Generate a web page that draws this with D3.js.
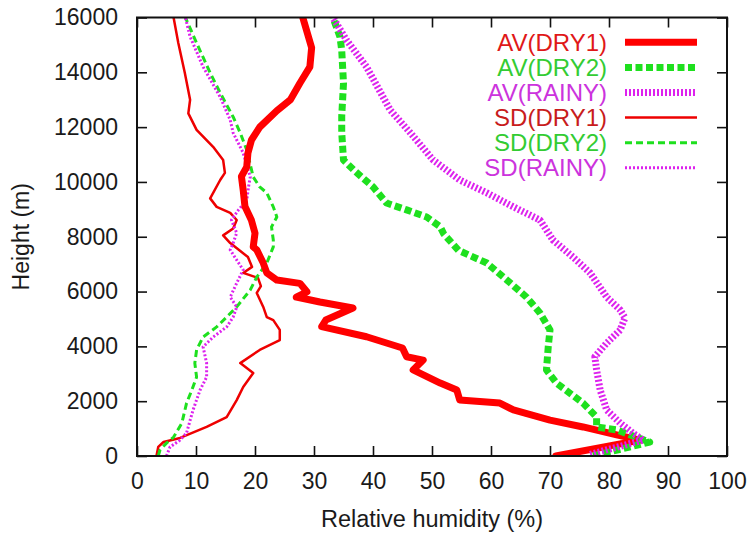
<!DOCTYPE html>
<html>
<head>
<meta charset="utf-8">
<script src="https://cdn.jsdelivr.net/npm/d3@7"></script>
<style>
  html, body { margin: 0; padding: 0; background: #fff; }
  svg { display: block; }
  text { font-family: "Liberation Sans", Arial, Helvetica, sans-serif; }
</style>
</head>
<body>
<svg id="chart" width="751" height="535"></svg>
<script>
// Relative humidity profiles: [RH (%), height (m)], listed from the ground up
const avDry1 = [[71.0,0],[85.3,580],[81.3,770],[75.6,1060],[70.0,1310],[63.8,1680],[61.5,1930],[54.7,2040],[54.2,2410],[51.4,2660],[46.8,3140],[48.5,3500],[45.7,3620],[45.0,3940],[38.9,4350],[31.3,4720],[32.0,4960],[36.6,5400],[31.0,5620],[27.0,5800],[28.8,5990],[27.6,6300],[23.7,6420],[22.0,6680],[21.4,7040],[20.3,7520],[19.7,7630],[20.0,8130],[19.4,8600],[18.3,9100],[18.0,9700],[17.7,10200],[18.6,10550],[18.8,11050],[19.4,11530],[20.8,12000],[23.7,12600],[26.0,13000],[27.6,13600],[29.3,14200],[29.6,14900],[28.1,16000]];
const avDry2 = [[77.3,0],[86.9,510],[81.3,950],[77.9,1060],[77.9,1420],[75.6,1930],[71.1,2660],[69.4,3140],[69.7,3980],[70.0,4600],[68.3,5220],[66.0,5800],[62.7,6420],[59.3,7040],[54.5,7500],[52.0,8100],[51.4,8360],[49.1,8720],[45.7,8980],[42.3,9230],[40.0,9820],[36.7,10440],[35.0,10800],[34.7,11800],[34.7,12400],[35.0,13600],[34.7,14800],[34.4,15300],[33.2,16000]];
const avRainy = [[76.8,60],[85.8,580],[84.0,840],[81.9,1200],[79.6,1680],[78.5,2410],[77.9,3140],[77.6,3620],[79.6,4120],[81.9,4600],[82.7,5040],[81.9,5330],[79.6,5800],[76.8,6680],[73.9,7260],[70.5,7880],[68.3,8610],[63.8,9090],[59.3,9600],[54.7,10070],[50.2,10800],[46.3,11800],[42.9,12630],[38.9,14200],[35.5,15180],[33.2,16000]];
const sdDry1 = [[3.3,0],[3.6,330],[4.5,510],[7.3,660],[11.8,1060],[15.2,1420],[16.9,2040],[18.0,2520],[19.7,3030],[17.5,3390],[20.8,3870],[24.2,4230],[24.2,4600],[23.1,4960],[22.0,5070],[21.4,5440],[20.3,5950],[21.0,6200],[20.5,6500],[18.0,6680],[19.5,6900],[18.8,7260],[15.8,7770],[14.6,8050],[16.3,8300],[16.9,8610],[15.8,8870],[13.5,9090],[12.4,9400],[14.1,10070],[14.9,10330],[14.6,10800],[12.9,11280],[10.1,11900],[8.7,12500],[9.0,13000],[8.1,13980],[7.0,15070],[6.2,16000]];
const sdDry2 = [[3.6,0],[3.9,220],[5.0,470],[6.2,690],[7.6,1200],[8.4,1930],[9.3,2410],[10.1,2880],[9.8,3390],[10.1,3870],[11.2,4340],[13.5,4710],[15.2,5070],[16.9,5440],[19.2,6060],[20.3,6530],[22.0,7040],[23.1,7630],[23.1,7880],[22.8,8360],[23.7,8720],[23.1,9090],[22.0,9600],[20.8,9820],[19.7,10180],[18.6,11170],[17.5,11790],[16.3,12370],[14.1,13250],[12.4,13980],[10.1,15070],[8.2,16000]];
const sdRainy = [[5.0,0],[5.6,330],[7.3,580],[8.4,840],[9.5,1680],[10.7,2410],[11.8,2880],[11.8,3390],[11.2,3980],[12.9,4340],[15.2,4710],[16.3,5070],[16.9,5440],[15.8,5800],[16.9,6310],[18.0,6790],[16.9,7150],[15.8,7520],[16.3,7770],[16.9,8140],[16.0,8610],[17.2,8980],[18.6,9340],[18.9,9820],[19.2,10180],[18.0,11060],[16.3,11790],[15.8,12260],[14.1,13100],[11.2,14200],[9.0,15300],[8.2,16000]];

const xTicks = [0,10,20,30,40,50,60,70,80,90,100];
const yTicks = [0,2000,4000,6000,8000,10000,12000,14000,16000];
const seriesNames = ["AV(DRY1)","AV(DRY2)","AV(RAINY)","SD(DRY1)","SD(DRY2)","SD(RAINY)"];

const series = [
  { name: seriesNames[0], data: avDry1,  stroke: "#ff0000", width: 7,   dash: null,    text: "#e01818" },
  { name: seriesNames[1], data: avDry2,  stroke: "#1ee01e", width: 7,   dash: "7,3.5", text: "#33cc33" },
  { name: seriesNames[2], data: avRainy, stroke: "#dd22ee", width: 7,   dash: "2,2",   text: "#cc33dd" },
  { name: seriesNames[3], data: sdDry1,  stroke: "#ee0000", width: 2.5, dash: null,    text: "#c81c1c" },
  { name: seriesNames[4], data: sdDry2,  stroke: "#1ee01e", width: 3,   dash: "7,4",   text: "#33cc33" },
  { name: seriesNames[5], data: sdRainy, stroke: "#dd22ee", width: 3,   dash: "2,2",   text: "#cc33dd" }
];

const svg = d3.select("#chart");
const L = 137, R = 727, T = 17.5, B = 456;

const x = d3.scaleLinear().domain([0, 100]).range([L, R]);
const y = d3.scaleLinear().domain([0, 16000]).range([B, T]);

const tickFont = 23;

// Bottom axis with labels, ticks pointing inward
const gx = svg.append("g").attr("transform", `translate(0,${B})`)
  .call(d3.axisBottom(x).tickValues(xTicks).tickSize(-10).tickPadding(17).tickFormat(d3.format("d")));
// Top mirror ticks
const gxt = svg.append("g").attr("transform", `translate(0,${T})`)
  .call(d3.axisTop(x).tickValues(xTicks).tickSize(-10).tickFormat(""));
// Left axis with labels
const gy = svg.append("g").attr("transform", `translate(${L},0)`)
  .call(d3.axisLeft(y).tickValues(yTicks).tickSize(-10).tickPadding(19).tickFormat(d3.format("d")));
// Right mirror ticks
const gyr = svg.append("g").attr("transform", `translate(${R},0)`)
  .call(d3.axisRight(y).tickValues(yTicks).tickSize(-10).tickFormat(""));

[gx, gxt, gy, gyr].forEach(g => {
  g.select(".domain").remove();
  g.selectAll(".tick line").attr("stroke", "#111").attr("stroke-width", 1.6);
  g.selectAll(".tick text").attr("font-size", tickFont).attr("fill", "#1a1a1a")
    .attr("font-family", "'Liberation Sans', Arial, sans-serif");
});

// Clip the profiles to the plotting frame
svg.append("clipPath").attr("id", "plotClip")
  .append("rect").attr("x", L).attr("y", T).attr("width", R - L).attr("height", B - T);

const line = d3.line().x(d => x(d[0])).y(d => y(d[1]));

const plot = svg.append("g").attr("clip-path", "url(#plotClip)");
// Draw the thin SD curves first, the thick averages on top
[3, 4, 5, 0, 1, 2].forEach(i => {
  const s = series[i];
  plot.append("path")
    .datum(s.data)
    .attr("d", line)
    .attr("fill", "none")
    .attr("stroke", s.stroke)
    .attr("stroke-width", s.width)
    .attr("stroke-dasharray", s.dash)
    .attr("stroke-linejoin", "round")
    .attr("stroke-linecap", s.dash ? "butt" : "round");
});

// Frame
svg.append("rect")
  .attr("x", L).attr("y", T).attr("width", R - L).attr("height", B - T)
  .attr("fill", "none").attr("stroke", "#111").attr("stroke-width", 2);

// Legend
const legend = svg.append("g");
series.forEach((s, i) => {
  const cy = 42.3 + i * 25.1;
  legend.append("text")
    .attr("x", 607).attr("y", cy + 8.5)
    .attr("text-anchor", "end")
    .attr("font-size", 24)
    .attr("fill", s.text)
    .text(s.name);
  legend.append("line")
    .attr("x1", 625).attr("x2", 697)
    .attr("y1", cy).attr("y2", cy)
    .attr("stroke", s.stroke)
    .attr("stroke-width", s.width)
    .attr("stroke-dasharray", s.dash);
});

// Axis titles
svg.append("text")
  .attr("x", (L + R) / 2).attr("y", 527)
  .attr("text-anchor", "middle")
  .attr("font-size", 23.5).attr("fill", "#1a1a1a")
  .text("Relative humidity (%)");

svg.append("text")
  .attr("transform", `translate(29,${(T + B) / 2}) rotate(-90)`)
  .attr("text-anchor", "middle")
  .attr("font-size", 23).attr("fill", "#1a1a1a")
  .text("Height (m)");
</script>
</body>
</html>
